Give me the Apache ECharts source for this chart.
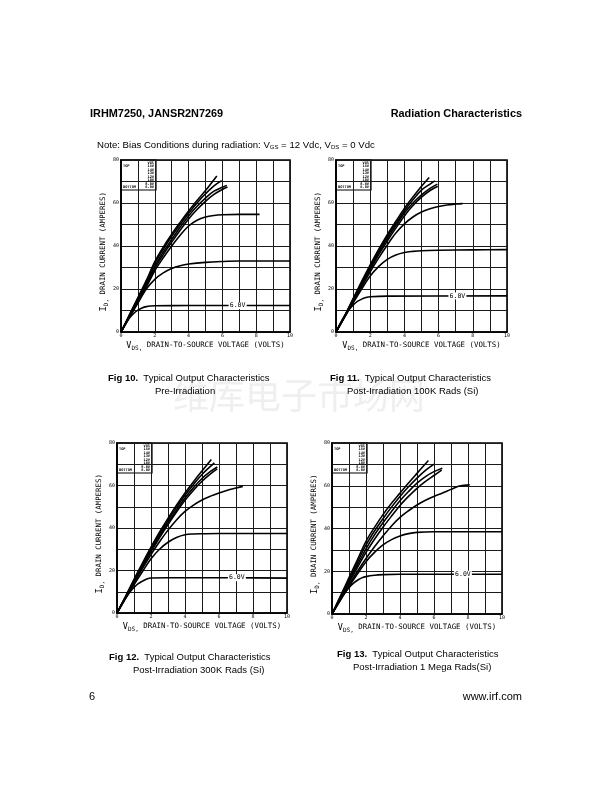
<!DOCTYPE html>
<html>
<head>
<meta charset="utf-8">
<script src="https://cdn.jsdelivr.net/npm/echarts@6/dist/echarts.min.js"></script>
<style>
html,body{margin:0;padding:0;background:#fff;}
#c{width:612px;height:792px;}
</style>
</head>
<body>
<div id="c"></div>
<script>
// ---------- data ----------
const xTickLabels = [0, 2, 4, 6, 8, 10];
const yTickLabels = [0, 20, 40, 60, 80];
const legendRows = ['VGS', '15V', '14V', '13V', '12V', '10V', '8.0V', '6.0V'];
const curveLabel = '6.0V';

// Fig 10 Pre-Irradiation
const f10_15V = [[0,0],[0.5,8],[1,16],[1.5,24],[2,32.7],[2.5,39.5],[3,45.5],[3.5,51],[4,56.3],[4.5,61.2],[5,65.8],[5.67,72.6]];
const f10_14V = [[0,0],[0.5,7.8],[1,15.5],[1.5,23.5],[2,32],[2.5,38.5],[3,44.5],[3.5,50],[4,55.2],[4.5,60],[5,64.3],[5.5,68],[5.96,70.4]];
const f10_13V = [[0,0],[0.5,7.5],[1,15],[1.5,22.5],[2,30.7],[2.5,37.2],[3,43],[3.5,48.7],[4,54],[4.5,58.5],[5,62.3],[5.5,65.5],[6,67.3],[6.26,68.2]];
const f10_12V = [[0,0],[0.5,7.3],[1,14.5],[1.5,21.8],[2,29.6],[2.5,36],[3,41.8],[3.5,47.3],[4,52.6],[4.5,57],[5,60.8],[5.5,64],[6,66.3],[6.3,67.4]];
const f10_10V = [[0,0],[0.5,7],[1,14],[1.5,21],[2,28.5],[2.5,34.5],[3,40],[3.5,45],[4,49.3],[4.5,52],[5,53.5],[5.5,54.2],[6,54.5],[7,54.7],[8.2,54.7]];
const f10_8V  = [[0,0],[0.5,6.8],[1,13.5],[1.5,20],[2,24.5],[2.5,27.5],[3,29.5],[3.5,30.8],[4,31.6],[5,32.4],[6,32.8],[7,33],[10,33]];
const f10_6V  = [[0,0],[0.25,3.5],[0.5,6.5],[0.75,8.7],[1,10.2],[1.25,11.2],[1.5,11.8],[1.75,12.1],[2,12.2],[4,12.3],[10,12.3]];
const f10_labelAt = [6.9, 12.3];

// Fig 11 Post-Irradiation 100K Rads (Si)
const f11_15V = [[0,0],[0.5,7.5],[1,15.5],[1.5,23.5],[2,31.2],[2.5,38.5],[3,45.3],[3.5,51.5],[4,57.5],[4.5,62.8],[5,67.8],[5.45,71.9]];
const f11_14V = [[0,0],[0.5,7.3],[1,15.2],[1.5,23],[2,30.5],[2.5,37.8],[3,44.5],[3.5,50.5],[4,56.4],[4.5,61.5],[5,66],[5.5,68.8],[5.78,70.3]];
const f11_13V = [[0,0],[0.5,7.2],[1,15],[1.5,22.5],[2,30],[2.5,37],[3,43.5],[3.5,49.5],[4,55.3],[4.5,60],[5,63.8],[5.5,66.8],[5.93,68.8]];
const f11_12V = [[0,0],[0.5,7],[1,14.5],[1.5,22],[2,29],[2.5,36],[3,42.3],[3.5,48.3],[4,54],[4.5,58.8],[5,62.7],[5.5,65.8],[5.95,67.8]];
const f11_10V = [[0,0],[0.5,7],[1,14],[1.5,21],[2,28],[2.5,34.5],[3,40.5],[3.5,46],[4,50.3],[4.5,53.5],[5,55.8],[5.5,57.3],[6,58.4],[6.5,59.1],[7,59.5],[7.4,59.7]];
const f11_8V  = [[0,0],[0.5,6.8],[1,13.5],[1.5,20],[2,26],[2.5,30.5],[3,33.8],[3.5,35.8],[4,37],[4.5,37.5],[5,37.8],[6,38],[8,38.2],[10,38.3]];
const f11_6V  = [[0,0],[0.25,4],[0.5,7.5],[0.75,10.3],[1,12.5],[1.25,14.2],[1.5,15.3],[1.75,16],[2,16.4],[3,16.7],[10,16.8]];
const f11_labelAt = [7.1, 16.8];

// Fig 12 Post-Irradiation 300K Rads (Si)
const f12_15V = [[0,0],[0.5,7.8],[1,15.8],[1.5,23.5],[2,31],[2.5,38],[3,44.5],[3.5,50.7],[4,56.5],[4.5,61.8],[5,66.8],[5.55,72.2]];
const f12_14V = [[0,0],[0.5,7.5],[1,15.3],[1.5,23],[2,30.3],[2.5,37.2],[3,43.6],[3.5,49.6],[4,55.4],[4.5,60.5],[5,65.2],[5.73,70.6]];
const f12_13V = [[0,0],[0.5,7.3],[1,15],[1.5,22.3],[2,29.5],[2.5,36.2],[3,42.5],[3.5,48.4],[4,54.1],[4.5,59],[5,63.3],[5.5,66.6],[5.9,68.7]];
const f12_12V = [[0,0],[0.5,7.1],[1,14.5],[1.5,21.8],[2,28.8],[2.5,35.4],[3,41.6],[3.5,47.5],[4,53],[4.5,57.8],[5,62],[5.5,65.5],[5.9,67.8]];
const f12_10V = [[0,0],[0.5,7],[1,14],[1.5,21],[2,27.5],[2.5,33.5],[3,39],[3.5,43.8],[4,47.8],[4.5,50.8],[5,53.2],[5.5,55],[6,56.5],[6.5,57.8],[7,58.8],[7.4,59.6]];
const f12_8V  = [[0,0],[0.5,6.8],[1,13.3],[1.5,19.5],[2,25.5],[2.5,30],[3,33.3],[3.5,35.5],[4,36.8],[4.5,37.2],[5,37.3],[6,37.4],[10,37.4]];
const f12_6V  = [[0,0],[0.25,3.8],[0.5,7],[0.75,9.8],[1,12],[1.25,13.8],[1.5,15],[1.75,16],[2,16.5],[3,16.6],[7,16.6],[10,16.4]];
const f12_labelAt = [7.05, 16.6];

// Fig 13 Post-Irradiation 1 Mega Rads (Si)
const f13_15V = [[0,0],[0.5,8.5],[1,17],[1.5,25.5],[2,34],[2.5,40.5],[3,46.5],[3.5,51.8],[4,56.6],[4.5,61.3],[5,65.8],[5.67,71.8]];
const f13_14V = [[0,0],[0.5,8],[1,16.2],[1.5,24.3],[2,32.3],[2.5,38.8],[3,44.6],[3.5,50],[4,55],[4.5,59.5],[5,63.6],[5.5,67.2],[6,70.1]];
const f13_13V = [[0,0],[0.5,7.6],[1,15.3],[1.5,23],[2,30.5],[2.5,37],[3,42.7],[3.5,48],[4,53],[4.5,57.3],[5,61.2],[5.5,64.3],[6,66.6],[6.49,68.2]];
const f13_12V = [[0,0],[0.5,7.3],[1,14.6],[1.5,21.8],[2,28.8],[2.5,35],[3,40.6],[3.5,45.8],[4,50.8],[4.5,55],[5,58.8],[5.5,62],[6,64.8],[6.45,67.3]];
const f13_10V = [[0,0],[0.5,7],[1,13.5],[1.5,20],[2,26],[2.5,31.5],[3,36.5],[3.5,41.2],[4,45.2],[4.5,48.3],[5,51],[5.5,53.2],[6,55],[6.5,56.6],[7,58.3],[7.5,59.9],[8.1,60.4]];
const f13_8V  = [[0,0],[0.5,6.5],[1,12.8],[1.5,18.8],[2,24.5],[2.5,28.8],[3,32.3],[3.5,34.8],[4,36.5],[4.5,37.6],[5,38.2],[6,38.5],[10,38.5]];
const f13_6V  = [[0,0],[0.25,3.6],[0.5,6.8],[0.75,9.8],[1,12.3],[1.25,14.3],[1.5,15.8],[1.75,16.9],[2,17.5],[2.5,18.1],[3,18.4],[4,18.6],[10,18.6]];
const f13_labelAt = [7.7, 18.6];

const figures = [
  { curves: [f10_15V, f10_14V, f10_13V, f10_12V, f10_10V, f10_8V, f10_6V], labelAt: f10_labelAt },
  { curves: [f11_15V, f11_14V, f11_13V, f11_12V, f11_10V, f11_8V, f11_6V], labelAt: f11_labelAt },
  { curves: [f12_15V, f12_14V, f12_13V, f12_12V, f12_10V, f12_8V, f12_6V], labelAt: f12_labelAt },
  { curves: [f13_15V, f13_14V, f13_13V, f13_12V, f13_10V, f13_8V, f13_6V], labelAt: f13_labelAt }
];

// ---------- layout ----------
const layouts = [
  { left: 121, top: 160, width: 169, height: 172 },
  { left: 336, top: 160, width: 171, height: 172 },
  { left: 117, top: 443, width: 170, height: 170 },
  { left: 332, top: 443, width: 170, height: 171 }
];
const MONO = "'DejaVu Sans Mono', monospace";
const SANS = "'Liberation Sans', Arial, sans-serif";

const grid = [], xAxis = [], yAxis = [], series = [], graphic = [];

layouts.forEach((L, i) => {
  grid.push({ left: L.left, top: L.top, width: L.width, height: L.height, show: true,
    borderColor: '#000', borderWidth: 1.6, backgroundColor: 'transparent' });
  xAxis.push({
    type: 'value', gridIndex: i, min: 0, max: 10, interval: 1,
    axisLine: { show: true, onZero: false, lineStyle: { color: '#000', width: 1.6 } },
    axisTick: { show: false },
    splitLine: { show: true, lineStyle: { color: '#1a1a1a', width: 1 } },
    axisLabel: { margin: 1.5, fontSize: 5, color: '#000', fontFamily: MONO,
      formatter: v => xTickLabels.indexOf(v) >= 0 ? String(v) : '' },
    name: '{v|V}{s|DS,}{t| DRAIN-TO-SOURCE VOLTAGE (VOLTS)}',
    nameLocation: 'middle', nameGap: 8,
    nameTextStyle: { rich: {
      v: { fontSize: 8.5, fontFamily: MONO, color: '#000', lineHeight: 11, verticalAlign: 'middle' },
      s: { fontSize: 6, fontFamily: MONO, color: '#000', lineHeight: 11, verticalAlign: 'bottom' },
      t: { fontSize: 7.4, fontFamily: MONO, color: '#000', lineHeight: 11, verticalAlign: 'middle' }
    } }
  });
  yAxis.push({
    type: 'value', gridIndex: i, min: 0, max: 80, interval: 10,
    axisLine: { show: true, onZero: false, lineStyle: { color: '#000', width: 1.6 } },
    axisTick: { show: false },
    splitLine: { show: true, lineStyle: { color: '#1a1a1a', width: 1 } },
    axisLabel: { margin: 2, fontSize: 5, color: '#000', fontFamily: MONO,
      formatter: v => yTickLabels.indexOf(v) >= 0 ? String(v) : '' },
    name: '{i|I}{d|D,}{t| DRAIN CURRENT (AMPERES)}',
    nameLocation: 'middle', nameGap: 12, nameRotate: 90,
    nameTextStyle: { padding: [0, 12, 0, 0], rich: {
      i: { fontSize: 9.5, fontFamily: MONO, color: '#000', lineHeight: 11, verticalAlign: 'middle' },
      d: { fontSize: 6, fontFamily: MONO, color: '#000', lineHeight: 11, verticalAlign: 'bottom' },
      t: { fontSize: 7.4, fontFamily: MONO, color: '#000', lineHeight: 11, verticalAlign: 'middle' }
    } }
  });

  const fig = figures[i];
  fig.curves.forEach((data, k) => {
    const s = {
      type: 'line', xAxisIndex: i, yAxisIndex: i, data: data,
      smooth: 0.35, showSymbol: false, symbol: 'none', silent: true,
      lineStyle: { color: '#000', width: 1.6 }, z: 3
    };
    if (k === fig.curves.length - 1) {
      s.markPoint = {
        symbol: 'rect', symbolSize: [18, 7], silent: true,
        itemStyle: { color: '#fff' },
        label: { show: true, formatter: curveLabel, color: '#000', fontSize: 6.5, fontFamily: MONO },
        data: [{ coord: fig.labelAt }]
      };
    }
    series.push(s);
  });

  // legend box
  const bw = 35, bh = 30;
  const children = [{ type: 'rect', shape: { x: L.left, y: L.top, width: bw, height: bh },
    style: { fill: '#fff', stroke: '#000', lineWidth: 1.2 } }];
  legendRows.forEach((t, r) => {
    const yy = L.top + 2.6 + r * 3.55;
    children.push({ type: 'text', x: L.left + 33, y: yy,
      style: { text: t, fontSize: 3.6, fontWeight: 'bold', fontFamily: MONO, fill: '#000', align: 'right', verticalAlign: 'middle' } });
    if (r === 1 || r === 7) {
      children.push({ type: 'text', x: L.left + 2, y: yy,
        style: { text: r === 1 ? 'TOP' : 'BOTTOM', fontSize: 3.6, fontWeight: 'bold', fontFamily: MONO, fill: '#000', align: 'left', verticalAlign: 'middle' } });
    }
  });
  graphic.push({ type: 'group', z: 100, children: children });
});

// ---------- page text ----------
function txt(x, y, text, opt) {
  return Object.assign({ type: 'text', x: x, y: y, z: 50,
    style: Object.assign({ text: text, fontSize: 9.5, fontFamily: SANS, fill: '#000', align: 'left', verticalAlign: 'middle' }, opt || {}) });
}
const capRich = { b: { fontWeight: 'bold', fontSize: 9.5, fontFamily: SANS, fill: '#000' } };

graphic.push({ type: 'text', x: 173, y: 395, z: 1,
  style: { text: '维库电子市场网', fontSize: 36, fontFamily: "'Noto Sans CJK SC', sans-serif", fill: '#efefef', verticalAlign: 'middle' } });

graphic.push(txt(90, 113.5, 'IRHM7250, JANSR2N7269', { fontWeight: 'bold', fontSize: 10.9 }));
graphic.push(txt(522, 113.5, 'Radiation Characteristics', { fontWeight: 'bold', fontSize: 10.9, align: 'right' }));
graphic.push(txt(97, 145, 'Note: Bias Conditions during radiation: V{s|GS} = 12 Vdc, V{s|DS} = 0 Vdc',
  { fontSize: 9.6, rich: { s: { fontSize: 6, fontFamily: SANS, fill: '#000', verticalAlign: 'bottom' } } }));

graphic.push(txt(108, 378, '{b|Fig 10.}  Typical Output Characteristics', { rich: capRich }));
graphic.push(txt(155, 391.5, 'Pre-Irradiation'));
graphic.push(txt(330, 378, '{b|Fig 11.}  Typical Output Characteristics', { rich: capRich }));
graphic.push(txt(347, 391.5, 'Post-Irradiation 100K Rads (Si)'));
graphic.push(txt(109, 657, '{b|Fig 12.}  Typical Output Characteristics', { rich: capRich }));
graphic.push(txt(133, 670, 'Post-Irradiation 300K Rads (Si)'));
graphic.push(txt(337, 654, '{b|Fig 13.}  Typical Output Characteristics', { rich: capRich }));
graphic.push(txt(353, 667, 'Post-Irradiation 1 Mega Rads(Si)'));
graphic.push(txt(89, 697, '6', { fontSize: 11 }));
graphic.push(txt(522, 697, 'www.irf.com', { fontSize: 11, align: 'right' }));

const chart = echarts.init(document.getElementById('c'), null, { renderer: 'canvas' });
chart.setOption({
  animation: false,
  backgroundColor: '#fff',
  grid: grid, xAxis: xAxis, yAxis: yAxis, series: series, graphic: graphic
});
</script>
</body>
</html>
